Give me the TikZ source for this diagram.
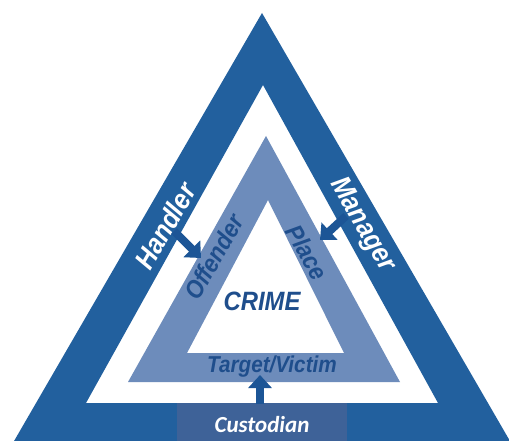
\documentclass[tikz,border=0pt]{standalone}
\usepackage{fontspec}
\newfontfamily\condfont[FakeStretch=0.9]{Liberation Sans}
\newfontfamily\custfont{Carlito}
\usetikzlibrary{arrows.meta}
\definecolor{bandblue}{HTML}{22609E}
\definecolor{lightband}{HTML}{6D8CBB}
\definecolor{textblue}{HTML}{1F4E8C}
\definecolor{arrowblue}{HTML}{1C5596}
\definecolor{custbox}{HTML}{3E6298}
\tikzset{
  bandtext/.style={text=white, inner sep=0pt, font=\condfont\bfseries\itshape\fontsize{28}{28}\selectfont},
  innertext/.style={text=textblue, inner sep=0pt, font=\condfont\bfseries\itshape\fontsize{25}{25}\selectfont},
  blockarrow/.style={draw=arrowblue, line width=8pt, -{Triangle[width=23pt,length=13pt]}}
}
\begin{document}
\begin{tikzpicture}[x=1pt,y=-1pt]
\useasboundingbox (0,0) rectangle (509,441);
\clip (0,0) rectangle (509,441);
\fill[white] (0,0) rectangle (509,441);
% outer band
\fill[bandblue, even odd rule] (262,13) -- (10,448) -- (514,448) -- cycle
  (263,85) -- (86,403) -- (438,403) -- cycle;
% custodian box
\fill[custbox] (177,403) rectangle (347,445);
% middle band
\fill[lightband, even odd rule] (266,136) -- (128,382) -- (400,382) -- cycle
  (268,200) -- (187,353) -- (344,353) -- cycle;
% labels
\node[bandtext, rotate=60] (handler) at (165,226) {Handler};
\node[bandtext, rotate=-60] (manager) at (362,225) {Manager};
\node[innertext, rotate=60] (offender) at (214,257) {Offender};
\node[innertext, rotate=-60] (place) at (307,252) {Place};
\node[innertext, font=\condfont\bfseries\itshape\fontsize{26.5}{26.5}\selectfont] (crime) at (262,301) {CRIME};
\node[innertext, font=\condfont\bfseries\itshape\fontsize{23}{23}\selectfont] (target) at (272,367) {Target/Victim};
\node[text=white, inner sep=0pt, font=\custfont\bfseries\itshape\fontsize{23}{23}\selectfont] (custodian) at (262,425) {Custodian};
% arrows
\coordinate (hs) at (174,231);
\coordinate (ht) at (201,258);
\coordinate (ms) at (346,216);
\coordinate (mt) at (320,240);
\coordinate (cs) at (260,404);
\coordinate (ct) at (260,375);
\draw[blockarrow] (hs) -- (ht);
\draw[blockarrow] (ms) -- (mt);
\draw[blockarrow] (cs) -- (ct);
\end{tikzpicture}
\end{document}
